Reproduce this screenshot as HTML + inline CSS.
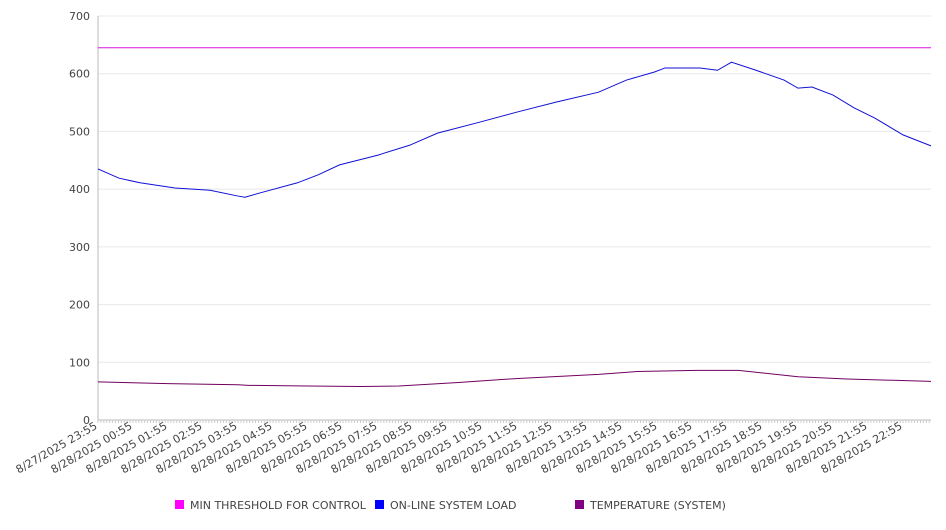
<!DOCTYPE html>
<html><head><meta charset="utf-8"><style>
body{margin:0;background:#fff;font-family:"DejaVu Sans","Liberation Sans",sans-serif;}
svg text{font-family:"DejaVu Sans","Liberation Sans",sans-serif;fill:#444;font-size:11px;}
</style></head><body>
<svg id="chart" width="946" height="526"></svg>
<script>
const tickLabels=["8/27/2025 23:55","8/28/2025 00:55","8/28/2025 01:55","8/28/2025 02:55","8/28/2025 03:55","8/28/2025 04:55","8/28/2025 05:55","8/28/2025 06:55","8/28/2025 07:55","8/28/2025 08:55","8/28/2025 09:55","8/28/2025 10:55","8/28/2025 11:55","8/28/2025 12:55","8/28/2025 13:55","8/28/2025 14:55","8/28/2025 15:55","8/28/2025 16:55","8/28/2025 17:55","8/28/2025 18:55","8/28/2025 19:55","8/28/2025 20:55","8/28/2025 21:55","8/28/2025 22:55"];
const yTicks=[0,100,200,300,400,500,600,700];
const loadHours=[0,0.6,1.2,2.2,3.2,4.0,4.2,4.6,5.7,6.3,6.9,8.0,8.9,9.7,10.9,12.0,13.1,14.3,15.1,15.9,16.2,17.2,17.7,18.1,18.8,19.6,20.0,20.4,21.0,21.6,22.2,23.0,23.8];
const loadValues=[435,419,411,402,398,388,386,393,411,425,442,459,476,497,516,534,551,568,589,603,610,610,606,620,606,589,575,577,563,541,523,494,475];
const tempHours=[0,2,4,4.3,6,7.5,8.6,10.3,12,14.3,15.4,17.1,18.3,20,21.4,23.8];
const tempValues=[66,63,61,60,59,58,59,65,72,79,84,86,86,75,71,67];
const thresholdValue=645;
const NS="http://www.w3.org/2000/svg";
const svg=document.getElementById('chart');
const X0=98,X1=931,Y0=420,Y1=16,HPX=35;
const xs=h=>X0+h*HPX;
const ys=v=>Y0-(v/700)*(Y0-Y1);
function mk(t,a){const e=document.createElementNS(NS,t);for(const k in a)e.setAttribute(k,a[k]);svg.appendChild(e);return e;}
yTicks.forEach(v=>{
  const g=mk('line',{x1:X0,x2:X1,y1:ys(v),y2:ys(v),stroke:v===0?'#bbb':'#e8e8e8'});
  
  
  const t=mk('text',{x:90,y:ys(v)+4,'text-anchor':'end'});t.textContent=v;
  
  
});
const ax=mk('line',{x1:X0,x2:X0,y1:Y1,y2:Y0,stroke:'#bbb'});


for(let x=X0;x<=X1;x+=HPX/12){mk('line',{x1:x,x2:x,y1:Y0,y2:Y0+3,stroke:'#ccc'});}
tickLabels.forEach((l,i)=>{
  const x=xs(i);
  const t=mk('text',{x:x,y:Y0+8,'text-anchor':'end',transform:`rotate(-30 ${x} ${Y0+8})`});
  t.textContent=l;
  
  
});
const th=mk('line',{x1:X0,x2:X1,y1:ys(thresholdValue),y2:ys(thresholdValue),stroke:'#e010e0','stroke-width':1});


function poly(hs,vs,c,n){
  const p=mk('polyline',{points:hs.map((h,i)=>xs(h)+','+ys(vs[i])).join(' '),fill:'none',stroke:c,'stroke-width':1});
  
  
}
poly(loadHours,loadValues,'#1010d8','load-line');
poly(tempHours,tempValues,'#700060','temperature-line');
[["MIN THRESHOLD FOR CONTROL","#ff00ff",175],["ON-LINE SYSTEM LOAD","#0000ff",375],["TEMPERATURE (SYSTEM)","#800080",575]].forEach(([n,c,x])=>{
  const r=mk('rect',{x:x,y:500,width:9,height:9,fill:c});
  
  
  const t=mk('text',{x:x+15,y:509});t.textContent=n;
  
  
});
</script>
</body></html>
